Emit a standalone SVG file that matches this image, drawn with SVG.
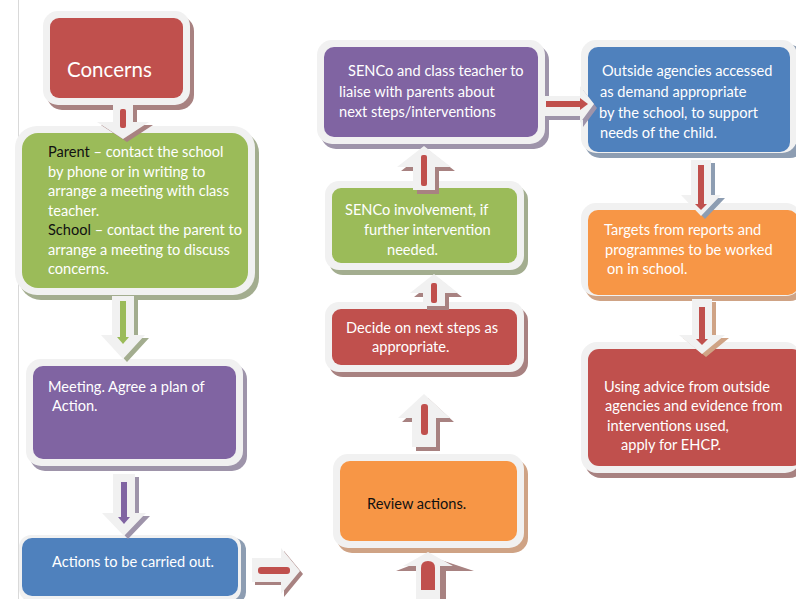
<svg xmlns="http://www.w3.org/2000/svg" width="796" height="599" viewBox="0 0 796 599">
<style>
  .frame { fill: #F1F1F1; }
  .t { font-family: "Lato", "Liberation Sans", sans-serif; font-size: 14.6px; fill: #FFFFFF; }
  .k { fill: #111111; }
  .arr { fill: #F1F1F1; }
  .red { fill: #C0504D; }
  .grn { fill: #9BBB59; }
  .pur { fill: #8064A2; }
  .blu { fill: #4F81BD; }
  .org { fill: #F79646; }
  .sred { fill: #A88281; }
  .sgrn { fill: #A3AD8F; }
  .spur { fill: #9E94AA; }
  .sblu { fill: #8D9DB2; }
  .sorg { fill: #CFA385; }
</style>
<rect x="0" y="0" width="796" height="599" fill="#FFFFFF"/>
<line x1="18.5" y1="0" x2="18.5" y2="599" stroke="#D9D9D9" stroke-width="1"/>

<g id="concerns">
  <rect class="sred" x="47" y="16" width="147" height="94" rx="15"/>
  <rect class="frame" x="43" y="11" width="147" height="94" rx="15"/>
  <rect class="red" x="50" y="18" width="133" height="80" rx="9"/>
  <text class="t" x="67" y="77" style="font-size:20.5px">Concerns</text>
</g>

<g id="parent-school">
  <rect class="sgrn" x="19" y="131" width="240" height="169" rx="22"/>
  <rect class="frame" x="15" y="126" width="240" height="169" rx="22"/>
  <rect class="grn" x="22" y="133" width="226" height="155" rx="16"/>
  <text class="t" x="48" y="157"><tspan class="k">Parent</tspan> – contact the school</text>
  <text class="t" x="48" y="177">by phone or in writing to</text>
  <text class="t" x="48" y="196">arrange a meeting with class</text>
  <text class="t" x="48" y="216">teacher.</text>
  <text class="t" x="48" y="235"><tspan class="k">School</tspan> – contact the parent to</text>
  <text class="t" x="48" y="255">arrange a meeting to discuss</text>
  <text class="t" x="48" y="274">concerns.</text>
</g>

<g id="meeting">
  <rect class="spur" x="30" y="364" width="217" height="107" rx="15"/>
  <rect class="frame" x="26" y="359" width="217" height="107" rx="15"/>
  <rect class="pur" x="33" y="366" width="203" height="93" rx="10"/>
  <text class="t" x="48" y="392">Meeting. Agree a plan of</text>
  <text class="t" x="52" y="411">Action.</text>
</g>

<g id="actions">
  <rect class="sblu" x="22" y="538" width="224" height="66" rx="12"/>
  <rect class="frame" x="19" y="535" width="222" height="66" rx="12"/>
  <rect class="blu" x="22" y="538" width="216" height="58" rx="10"/>
  <text class="t" x="52" y="567">Actions to be carried out.</text>
</g>

<g id="senco-teacher">
  <rect class="spur" x="321" y="45" width="228" height="104" rx="15"/>
  <rect class="frame" x="317" y="40" width="228" height="104" rx="15"/>
  <rect class="pur" x="324" y="47" width="214" height="90" rx="10"/>
  <text class="t" x="348" y="76">SENCo and class teacher to</text>
  <text class="t" x="339" y="97">liaise with parents about</text>
  <text class="t" x="339" y="117">next steps/interventions</text>
</g>

<g id="senco-involvement">
  <rect class="sgrn" x="329" y="186" width="199" height="89" rx="14"/>
  <rect class="frame" x="325" y="181" width="199" height="89" rx="14"/>
  <rect class="grn" x="332" y="188" width="185" height="75" rx="9"/>
  <text class="t" x="345" y="215">SENCo involvement, if</text>
  <text class="t" x="364" y="235">further intervention</text>
  <text class="t" x="387" y="255">needed.</text>
</g>

<g id="decide">
  <rect class="sred" x="329" y="307" width="199" height="70" rx="14"/>
  <rect class="frame" x="325" y="302" width="199" height="70" rx="14"/>
  <rect class="red" x="332" y="309" width="185" height="56" rx="9"/>
  <text class="t" x="346" y="333">Decide on next steps as</text>
  <text class="t" x="372" y="352">appropriate.</text>
</g>

<g id="review">
  <rect class="sorg" x="337" y="459" width="191" height="94" rx="15"/>
  <rect class="frame" x="333" y="454" width="191" height="94" rx="15"/>
  <rect class="org" x="340" y="461" width="177" height="80" rx="10"/>
  <text class="t k" x="367" y="509">Review actions.</text>
</g>

<g id="outside-agencies">
  <rect class="sblu" x="585" y="45" width="220" height="113" rx="15"/>
  <rect class="frame" x="581" y="40" width="216" height="113" rx="15"/>
  <rect class="blu" x="588" y="47" width="202" height="105" rx="10"/>
  <text class="t" x="602" y="76">Outside agencies accessed</text>
  <text class="t" x="600" y="97">as demand appropriate</text>
  <text class="t" x="599" y="118">by the school, to support</text>
  <text class="t" x="600" y="138">needs of the child.</text>
</g>

<g id="targets">
  <rect class="sorg" x="585" y="208" width="220" height="93" rx="15"/>
  <rect class="frame" x="581" y="203" width="220" height="93" rx="15"/>
  <rect class="org" x="588" y="210" width="210" height="85" rx="10"/>
  <text class="t" x="604" y="235">Targets from reports and</text>
  <text class="t" x="605" y="255">programmes to be worked</text>
  <text class="t" x="607" y="274">on in school.</text>
</g>

<g id="ehcp">
  <rect class="sred" x="585" y="347" width="220" height="131" rx="16"/>
  <rect class="frame" x="581" y="342" width="220" height="131" rx="16"/>
  <rect class="red" x="588" y="349" width="215" height="117" rx="11"/>
  <text class="t" x="604" y="392">Using advice from outside</text>
  <text class="t" x="605" y="411">agencies and evidence from</text>
  <text class="t" x="607" y="431">interventions used,</text>
  <text class="t" x="621" y="450">apply for EHCP.</text>
</g>

<g id="connectors">
  <!-- Concerns -> Parent -->
  <path class="sred" d="M117,107 H137 V125 H153 L127,142 L101,125 H117 Z"/>
  <path class="arr" d="M113,104 H133 V122 H149 L123,139 L97,122 H113 Z"/>
  <rect class="red" x="120" y="109" width="6" height="19" rx="2"/>
  <!-- Parent -> Meeting -->
  <path class="sgrn" d="M116,299 H138 V338 H149 L127,362 L105,338 H116 Z"/>
  <path class="arr" d="M112,296 H134 V335 H145 L123,359 L101,335 H112 Z"/>
  <rect class="grn" x="120" y="301" width="6" height="37"/>
  <path class="grn" d="M117,337 H129 L123,344 Z"/>
  <!-- Meeting -> Actions -->
  <path class="spur" d="M117,477 H139 V516 H150 L128,539 L106,516 H117 Z"/>
  <path class="arr" d="M113,474 H135 V513 H146 L124,536 L102,513 H113 Z"/>
  <rect class="pur" x="121" y="482" width="6" height="36"/>
  <path class="pur" d="M118,517 H130 L124,524 Z"/>
  <!-- Actions -> Review -->
  <path class="sred" d="M255,561 H284 V551 L303,574 L284,597 V585 H255 Z"/>
  <path class="arr" d="M252,558 H281 V548 L300,571 L281,594 V582 H252 Z"/>
  <rect class="red" x="258" y="567" width="32" height="7" rx="3"/>
  <!-- bottom up into Review -->
  <path class="sred" d="M420,604 V571 H396 L432,557 L474,571 H446 V604 Z"/>
  <path class="arr" d="M416,600 V566 H403 L428,552 L453,566 H440 V600 Z"/>
  <path class="red" d="M421,590 V568 Q421,561 428,561 Q435,561 435,568 V590 Z"/>
  <!-- Review -> Decide -->
  <path class="sred" d="M416,451 V422 H402 L428,398 L454,422 H440 V451 Z"/>
  <path class="arr" d="M412,447 V418 H398 L424,394 L450,418 H436 V447 Z"/>
  <rect class="red" x="421" y="404" width="7" height="31" rx="3"/>
  <!-- Decide -> SENCo involvement -->
  <path class="sred" d="M427,310 V297 H414 L438,278 L462,297 H449 V310 Z"/>
  <path class="arr" d="M423,306 V293 H410 L434,274 L458,293 H445 V306 Z"/>
  <rect class="red" x="431" y="283" width="6" height="20" rx="2"/>
  <!-- SENCo involvement -> SENCo teacher -->
  <path class="sred" d="M417,194 V171 H401 L428,150 L455,171 H439 V194 Z"/>
  <path class="arr" d="M413,190 V167 H397 L424,146 L451,167 H435 V190 Z"/>
  <rect class="red" x="421" y="155" width="6" height="31" rx="2"/>
  <!-- SENCo teacher -> Outside agencies -->
  <path class="spur" d="M548,100 H583 V90 L597,108 L583,127 V120 H548 Z"/>
  <path class="arr" d="M544,96 H580 V86 L594,104 L580,123 V116 H544 Z"/>
  <rect class="red" x="546" y="101" width="35" height="6"/>
  <path class="red" d="M580,98 L588,104 L580,110 Z"/>
  <!-- Outside -> Targets -->
  <path class="sblu" d="M695,163 H715 V198 H725 L705,219 L685,198 H695 Z"/>
  <path class="arr" d="M691,160 H711 V195 H721 L701,216 L681,195 H691 Z"/>
  <rect class="red" x="698" y="165" width="6" height="40"/>
  <path class="red" d="M695,204 H707 L701,210 Z"/>
  <!-- Targets -> Using -->
  <path class="sorg" d="M696,302 H716 V338 H729 L706,357 L683,338 H696 Z"/>
  <path class="arr" d="M692,299 H712 V335 H725 L702,354 L679,335 H692 Z"/>
  <rect class="red" x="699" y="307" width="6" height="33"/>
  <path class="red" d="M696,339 H708 L702,345 Z"/>
</g>
</svg>
